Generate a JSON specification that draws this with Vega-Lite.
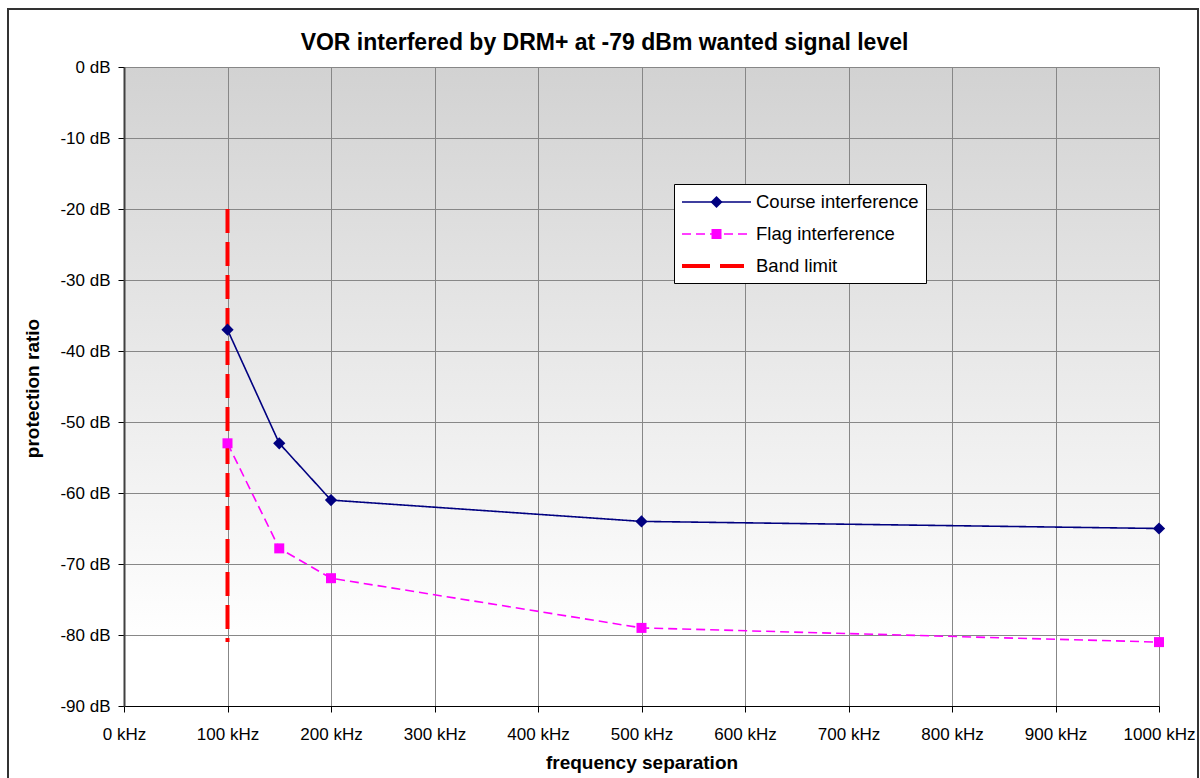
{
  "$schema": "https://vega.github.io/schema/vega-lite/v6.json",
  "width": 1035,
  "height": 639,
  "autosize": {"type": "none"},
  "padding": {"left": 124, "top": 67, "right": 41, "bottom": 72},
  "background": "white",
  "config": {
    "font": "Liberation Sans",
    "view": {"stroke": null},
    "axis": {"labelColor": "#000", "titleColor": "#000", "labelFont": "Liberation Sans", "titleFont": "Liberation Sans"},
    "legend": {"labelFont": "Liberation Sans"}
  },
  "view": {
    "stroke": null,
    "fill": {"gradient": "linear", "x1": 0, "y1": 0, "x2": 0, "y2": 1,
      "stops": [{"offset": 0, "color": "#d2d2d2"}, {"offset": 0.9, "color": "#ffffff"}, {"offset": 1, "color": "#ffffff"}]}
  },
  "title": {
    "text": "VOR interfered by DRM+ at -79 dBm wanted signal level",
    "fontSize": 23, "fontWeight": "bold", "anchor": "middle", "frame": "group",
    "dx": -37, "dy": 80, "baseline": "alphabetic", "offset": 15, "color": "#000", "font": "Liberation Sans"
  },
  "data": {"values": [
    {"freq": 100, "value": -37, "series": "Course interference"},
    {"freq": 150, "value": -53, "series": "Course interference"},
    {"freq": 200, "value": -61, "series": "Course interference"},
    {"freq": 500, "value": -64, "series": "Course interference"},
    {"freq": 1000, "value": -65, "series": "Course interference"},
    {"freq": 100, "value": -53, "series": "Flag interference"},
    {"freq": 150, "value": -67.8, "series": "Flag interference"},
    {"freq": 200, "value": -72, "series": "Flag interference"},
    {"freq": 500, "value": -79, "series": "Flag interference"},
    {"freq": 1000, "value": -81, "series": "Flag interference"},
    {"freq": 100, "value": -20, "series": "Band limit"},
    {"freq": 100, "value": -81, "series": "Band limit"}
  ]},
  "layer": [
    {
      "transform": [{"filter": "datum.series === 'Band limit'"}],
      "mark": {"type": "line", "color": "#ff0000", "strokeWidth": 4, "strokeDash": [24, 9]},
      "encoding": {
        "x": {"field": "freq", "type": "quantitative", "scale": {"domain": [0, 1000], "nice": false},
          "axis": {"title": "frequency separation", "values": [0, 100, 200, 300, 400, 500, 600, 700, 800, 900, 1000],
            "labelExpr": "datum.value + ' kHz'", "labelFontSize": 17, "labelPadding": 14, "tickSize": 6, "tickColor": "#000",
            "domainColor": "#000", "domainWidth": 1, "grid": true, "gridColor": "#878787", "gridWidth": 1,
            "titleFontSize": 19, "titleFontWeight": "bold", "titleY": 62, "titleBaseline": "alphabetic", "labelFlush": false, "labelOverlap": false}},
        "y": {"field": "value", "type": "quantitative", "scale": {"domain": [-90, 0], "nice": false},
          "axis": {"title": "protection ratio", "values": [-90, -80, -70, -60, -50, -40, -30, -20, -10, 0],
            "labelExpr": "datum.value + ' dB'", "labelFontSize": 17, "labelPadding": 8, "tickSize": 6, "tickColor": "#000",
            "domainColor": "#404040", "domainWidth": 2, "grid": true, "gridColor": "#878787", "gridWidth": 1,
            "titleFontSize": 19, "titleFontWeight": "bold", "titleX": -86, "titleY": 321, "titleAngle": 270, "titleBaseline": "alphabetic", "labelFlush": false, "labelOverlap": false}},
        "order": {"field": "value", "sort": "descending"}
      }
    },
    {
      "transform": [{"filter": "datum.series !== 'Band limit'"}],
      "mark": {"type": "line", "strokeWidth": 1.6},
      "encoding": {
        "x": {"field": "freq", "type": "quantitative", "title": "frequency separation"},
        "y": {"field": "value", "type": "quantitative", "title": "protection ratio"},
        "color": {"field": "series", "type": "nominal",
          "scale": {"domain": ["Course interference", "Flag interference", "Band limit"], "range": ["#000080", "#ff00ff", "#ff0000"]},
          "legend": {"orient": "none", "legendX": 550, "legendY": 117, "title": null, "symbolType": "M-1,0H5.9", "symbolSize": 400,
            "symbolStrokeWidth": 1.5, "labelFontSize": 18.5, "labelOffset": 53, "rowPadding": 11, "padding": 7,
            "fillColor": "white", "strokeColor": "black", "labelColor": "black", "labelLimit": 400}},
        "strokeDash": {"field": "series", "type": "nominal",
          "scale": {"domain": ["Course interference", "Flag interference", "Band limit"], "range": [[1, 0], [9, 5], [28, 10, 24, 100]]},
          "legend": {"orient": "none", "legendX": 550, "legendY": 117, "title": null, "symbolType": "M-1,0H5.9", "symbolSize": 400,
            "symbolStrokeWidth": 1.5, "labelFontSize": 18.5, "labelOffset": 53, "rowPadding": 11, "padding": 7,
            "fillColor": "white", "strokeColor": "black", "labelColor": "black", "labelLimit": 400}}
      }
    },
    {
      "transform": [{"filter": "datum.series === 'Course interference'"}],
      "mark": {"type": "point", "shape": "diamond", "filled": true, "color": "#000080", "size": 150, "opacity": 1},
      "encoding": {
        "x": {"field": "freq", "type": "quantitative", "title": "frequency separation"},
        "y": {"field": "value", "type": "quantitative", "title": "protection ratio"}
      }
    },
    {
      "transform": [{"filter": "datum.series === 'Flag interference'"}],
      "mark": {"type": "point", "shape": "square", "filled": true, "color": "#ff00ff", "size": 100, "opacity": 1},
      "encoding": {
        "x": {"field": "freq", "type": "quantitative", "title": "frequency separation"},
        "y": {"field": "value", "type": "quantitative", "title": "protection ratio"}
      }
    },
    {
      "transform": [{"filter": "datum.freq < 0"}],
      "mark": {"type": "point", "filled": true, "opacity": 1},
      "encoding": {
        "x": {"field": "freq", "type": "quantitative", "title": "frequency separation"},
        "y": {"field": "value", "type": "quantitative", "title": "protection ratio"},
        "fill": {"field": "series", "type": "nominal",
          "scale": {"domain": ["Course interference", "Flag interference", "Band limit", "~"], "range": ["#000080", "#ff00ff", "#ff0000", "transparent"]},
          "legend": {"orient": "none", "legendX": 550, "legendY": 117, "title": null, "symbolSize": 400, "values": ["Course interference", "Flag interference", "Band limit"],
            "symbolStrokeWidth": 1.5, "symbolStrokeColor": "transparent", "labelFontSize": 18.5, "labelOffset": 53, "rowPadding": 11, "padding": 7,
            "labelOpacity": 0, "labelLimit": 400, "zindex": 2}},
        "shape": {"field": "series", "type": "nominal",
          "scale": {"domain": ["Course interference", "Flag interference", "Band limit", "~"],
            "range": ["M1.85,0L2.45,-0.6L3.05,0L2.45,0.6Z", "M1.95,-0.5H2.95V0.5H1.95Z", "M-1,-0.2H1.8V0.2H-1ZM2.8,-0.2H5.2V0.2H2.8Z", "M0,0"]},
          "legend": {"orient": "none", "legendX": 550, "legendY": 117, "title": null, "symbolSize": 400, "values": ["Course interference", "Flag interference", "Band limit"],
            "symbolStrokeWidth": 1.5, "symbolStrokeColor": "transparent", "labelFontSize": 18.5, "labelOffset": 53, "rowPadding": 11, "padding": 7,
            "labelOpacity": 0, "labelLimit": 400, "zindex": 2}}
      }
    },
    {
      "mark": {"type": "rect", "fill": null, "stroke": "#333333", "strokeWidth": 1.5, "clip": false},
      "encoding": {
        "x": {"datum": -112, "type": "quantitative", "title": "frequency separation"},
        "x2": {"datum": 1037.7},
        "y": {"datum": 8.2, "type": "quantitative", "title": "protection ratio"},
        "y2": {"datum": -102}
      }
    }
  ]
}
